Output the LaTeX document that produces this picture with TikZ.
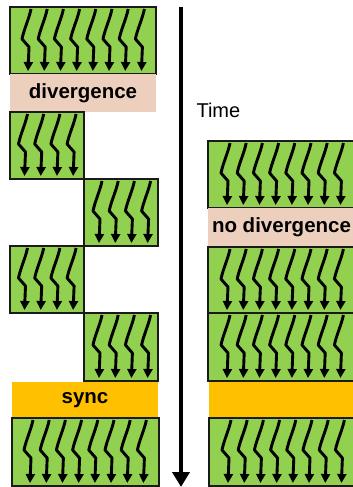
\documentclass[tikz,border=0pt]{standalone}
\usepackage{fontspec}
\setmainfont{Liberation Sans}
\usetikzlibrary{arrows.meta,calc}
\definecolor{warpgreen}{HTML}{92D050}
\definecolor{divtan}{HTML}{EDCFBD}
\definecolor{syncgold}{HTML}{FFC000}
\definecolor{edgegray}{HTML}{1A1A1A}

\tikzset{
  warp/.style={draw=edgegray, line width=1.3pt, fill=warpgreen, inner sep=0pt,
    outer sep=0pt, anchor=north west},
  band/.style={inner sep=0pt, outer sep=0pt, anchor=north west,
    font=\fontsize{20.5}{24}\selectfont\bfseries},
  thread/.style={line width=2.9pt, line join=round,
    -{Triangle[width=9pt,length=9pt]}},
}

% a warp: green box holding a row of squiggly thread arrows
% #1 name, #2 x, #3 y, #4 width, #5 height, #6 thread count, #7 first thread offset
\newcommand\warpbox[7]{%
  \node[warp, minimum width=#4pt, minimum height=#5pt] (#1) at (#2,#3) {};
  \begin{scope}[shift={(#1.north west)}]
    \foreach \k in {1,...,#6}{
      \pgfmathsetmacro\tx{#7+16.2*(\k-1)}
      \draw[thread] (\tx+3,2) .. controls (\tx+1,12) and (\tx-4,22) .. (\tx-6,32)
        -- (\tx+1,40) -- (\tx,#5-3);
    }
  \end{scope}}

\begin{document}
\begin{tikzpicture}[x=1pt,y=-1pt]
  \useasboundingbox (0,0) rectangle (353,487);

  % divergent warp
  \warpbox{a1}{10}{7}{146}{67}{8}{18}
  \node[band, fill=divtan, minimum width=146pt, minimum height=38pt] (adiv) at (10,74) {divergence};
  \warpbox{a2}{10}{112}{74}{67}{4}{14.5}
  \warpbox{a3}{84}{179}{74}{67}{4}{15}
  \warpbox{a4}{10}{246}{74}{67}{4}{14.5}
  \warpbox{a5}{84}{313}{74}{68}{4}{15}
  \node[band, fill=syncgold, minimum width=146pt, minimum height=36pt] (async) at (12,382) {sync};
  \warpbox{a6}{12}{418}{147}{68}{8}{18}

  % time axis
  \coordinate (t0) at (181,7);
  \coordinate (t1) at (181,487);
  \draw[line width=4.5pt, -{Triangle[width=17pt,length=15pt]}] (t0) -- (t1);
  \node[anchor=base west, font=\fontsize{20}{24}\selectfont] (time) at (193,117) {Time};

  % non-divergent warp
  \warpbox{b1}{208}{141}{147}{67}{8}{19}
  \node[band, fill=divtan, minimum width=147pt, minimum height=39pt] (bdiv) at (208,208) {no divergence};
  \warpbox{b2}{208}{247}{147}{66}{8}{19}
  \warpbox{b3}{208}{313}{147}{68}{8}{19}
  \node[band, fill=syncgold, minimum width=146pt, minimum height=36pt] (bsync) at (209,382) {};
  \warpbox{b4}{209}{418}{147}{68}{8}{19}
\end{tikzpicture}
\end{document}
